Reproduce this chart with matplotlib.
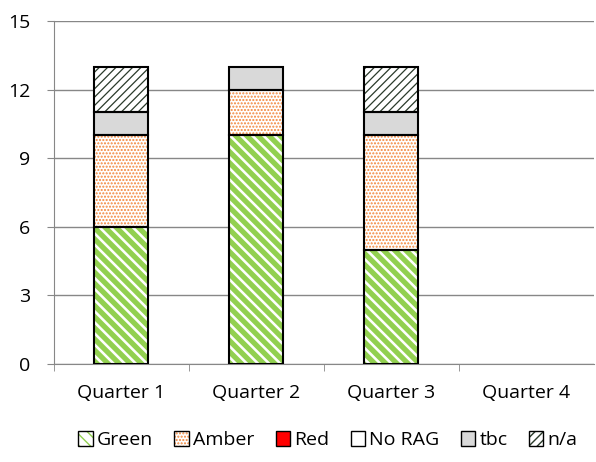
import matplotlib
matplotlib.use("Agg")
from matplotlib import pyplot as plt
from matplotlib.patches import Patch
from matplotlib.legend_handler import HandlerTuple
import numpy as np

quarters = ["Quarter 1", "Quarter 2", "Quarter 3", "Quarter 4"]
green = [6, 10, 5, 0]
amber = [4, 2, 5, 0]
red = [0, 0, 0, 0]
no_rag = [0, 0, 0, 0]
tbc = [1, 1, 1, 0]
na = [2, 0, 2, 0]

plt.rcParams['font.family'] = ['Open Sans', 'DejaVu Sans']

# name, values, face, hatch, hatch colour, hatch width
series = [
    ("Green", green, "white", "\\\\\\", "#92D050", 3.8),
    ("Amber", amber, "white", ".....", "#F2863A", 1.0),
    ("Red", red, "#FF0000", None, "#FF0000", 1.0),
    ("No RAG", no_rag, "white", None, "white", 1.0),
    ("tbc", tbc, "#D9D9D9", None, "#D9D9D9", 1.0),
    ("n/a", na, "white", "////", "#2A3A2A", 0.9),
]

fig = plt.figure(figsize=(5.96, 4.62), dpi=100)
ax = fig.add_axes([0.0906, 0.212, 0.906, 0.7425])

x = np.arange(len(quarters))
bottom = np.zeros(len(quarters))
w = 0.4
handles = []
for name, vals, face, hatch, hcol, hlw in series:
    vals = np.array(vals, dtype=float)
    with plt.rc_context({'hatch.linewidth': hlw}):
        ax.bar(x, vals, w, bottom=bottom, color=face, hatch=hatch,
               edgecolor=hcol, linewidth=0, zorder=2)
        inner = Patch(facecolor=face, edgecolor=hcol, linewidth=0, hatch=hatch)
    mask = vals > 0
    ax.bar(x[mask], vals[mask], w, bottom=bottom[mask], fill=False,
           edgecolor="black", linewidth=1.5, zorder=3)
    bottom = bottom + vals
    outline = Patch(fill=False, edgecolor="black", linewidth=1)
    handles.append((inner, outline))

ax.set_xlim(-0.5, 3.5)
ax.set_ylim(0, 15)
ax.set_yticks([0, 3, 6, 9, 12, 15])
ax.set_xticks([-0.5, 0.5, 1.5, 2.5], minor=True)
ax.set_xticks(x)
ax.set_xticklabels(quarters)
ax.tick_params(axis='x', which='major', length=0, pad=14, labelsize=14)
ax.tick_params(axis='x', which='minor', length=5, color="#878787")
ax.tick_params(axis='y', length=5, color="#878787", labelsize=14, pad=12)
ax.grid(axis='y', color="#878787", linewidth=1, zorder=0)
for s in ["top", "right"]:
    ax.spines[s].set_visible(False)
ax.spines["left"].set_color("#878787")
ax.spines["bottom"].set_color("#878787")

fig.legend(handles=handles, labels=[s[0] for s in series],
           handler_map={tuple: HandlerTuple(ndivide=1, pad=0)},
           loc="center", bbox_to_anchor=(0.55, 0.047), ncol=6,
           frameon=False, handlelength=0.75, handleheight=0.75, handletextpad=0.2,
           columnspacing=1.1, fontsize=14)

fig.savefig("out.png", dpi=100)
